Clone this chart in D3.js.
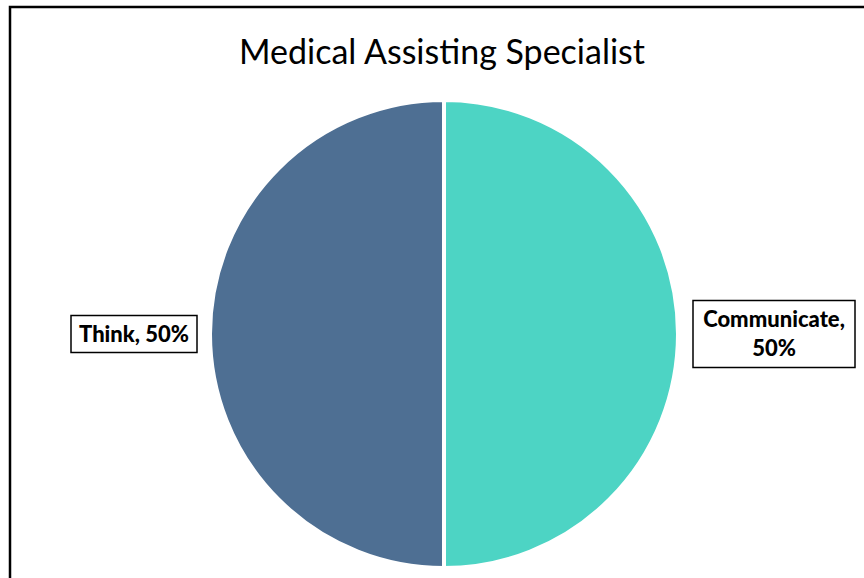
<html lang="en">
<head>
    <meta charset="utf-8" />
    <title>Medical Assisting Specialist</title>
    <style>
        body, html {
            margin: 0;
            padding: 0;
            background: #fff;
            overflow: hidden;
        }
        .title {
            font-family: Lato, "Open Sans", sans-serif;
            font-size: 34px;
            fill: #000;
            text-anchor: middle;
        }
        .slice-label {
            font-family: Lato, "Open Sans", sans-serif;
            font-weight: 900;
            font-size: 22px;
            fill: #000;
            text-anchor: middle;
        }
    </style>
    <script src="https://d3js.org/d3.v7.min.js"></script>
</head>
<body>
    <div id="chart"></div>
    <script>
        const categories = ["Communicate", "Think"];
        const values = [50, 50];
        const colors = ["#4DD4C4", "#4E6F93"];
        const labelLines = [["Communicate,", "50%"], ["Think, 50%"]];

        const width = 864, height = 578;
        const cx = 444, cy = 334, radius = 234;

        const svg = d3.select("#chart").append("svg")
            .attr("width", width)
            .attr("height", height);

        // chart frame (runs off the right and bottom like the original)
        svg.append("rect")
            .attr("x", 10).attr("y", 7)
            .attr("width", width + 10).attr("height", height + 10)
            .attr("fill", "none")
            .attr("stroke", "#000")
            .attr("stroke-width", 2.5);

        svg.append("text")
            .attr("class", "title")
            .attr("x", 442)
            .attr("y", 64)
            .text("Medical Assisting Specialist");

        const data = categories.map((c, i) => ({ name: c, value: values[i], lines: labelLines[i], color: colors[i] }));

        const pie = d3.pie().sort(null).value(d => d.value);
        const arc = d3.arc().innerRadius(0).outerRadius(radius);

        const g = svg.append("g").attr("transform", `translate(${cx},${cy})`);

        g.selectAll("path")
            .data(pie(data))
            .enter().append("path")
            .attr("d", arc)
            .attr("fill", d => d.data.color)
            .attr("stroke", "#fff")
            .attr("stroke-width", 4);

        // labels sit outside the pie, left and right
        const labelPos = { Communicate: { x: 774, y: 334, w: 162, h: 67 }, Think: { x: 134, y: 334, w: 126, h: 37 } };

        data.forEach(d => {
            const p = labelPos[d.name];
            const lg = svg.append("g").attr("transform", `translate(${p.x},${p.y})`);
            lg.append("rect")
                .attr("x", -p.w / 2).attr("y", -p.h / 2)
                .attr("width", p.w).attr("height", p.h)
                .attr("fill", "#fff")
                .attr("stroke", "#000")
                .attr("stroke-width", 1.5);
            const lh = 29;
            d.lines.forEach((line, i) => {
                lg.append("text")
                    .attr("class", "slice-label")
                    .attr("y", (i - (d.lines.length - 1) / 2) * lh)
                    .attr("dy", "0.36em")
                    .text(line);
            });
        });
    </script>
</body>
</html>
